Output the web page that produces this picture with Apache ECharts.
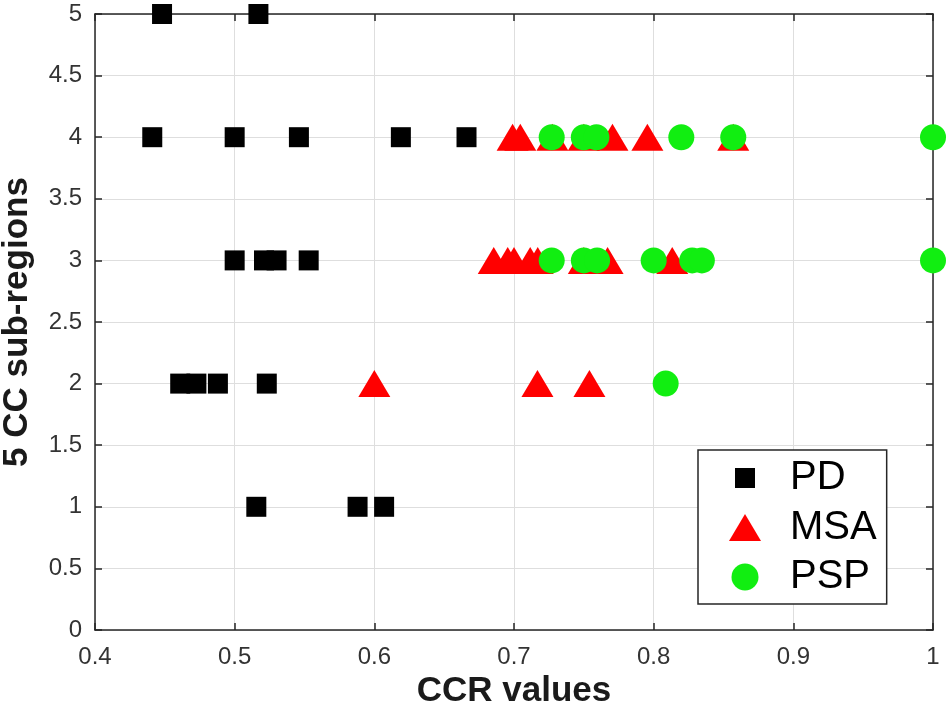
<!DOCTYPE html>
<html>
<head>
<meta charset="utf-8">
<script src="https://cdn.jsdelivr.net/npm/echarts@6/dist/echarts.min.js"></script>
<style>
  html, body { margin: 0; padding: 0; background: #fff; }
  #chart { width: 950px; height: 713px; }
</style>
</head>
<body>
<div id="chart"></div>
<script>
// CCR values per sub-region
const pdX  = [0.448, 0.517, 0.441, 0.5, 0.546, 0.619, 0.666, 0.5, 0.521, 0.53, 0.553, 0.461, 0.4726, 0.488, 0.523, 0.5155, 0.588, 0.607];
const pdY  = [5, 5, 4, 4, 4, 4, 4, 3, 3, 3, 3, 2, 2, 2, 2, 1, 1, 1];
const msaX = [0.699, 0.7045, 0.7275, 0.75, 0.7705, 0.7955, 0.857, 0.6855, 0.6955, 0.700, 0.7116, 0.717, 0.75, 0.767, 0.8133, 0.6, 0.7168, 0.754];
const msaY = [4, 4, 4, 4, 4, 4, 4, 3, 3, 3, 3, 3, 3, 3, 3, 2, 2, 2];
const pspX = [0.727, 0.75, 0.759, 0.8198, 0.857, 1.0, 0.727, 0.75, 0.7595, 0.80, 0.8276, 0.8345, 1.0, 0.8086];
const pspY = [4, 4, 4, 4, 4, 4, 3, 3, 3, 3, 3, 3, 3, 2];

const pairs = (xs, ys) => xs.map((x, i) => [x, ys[i]]);

const chart = echarts.init(document.getElementById('chart'));
const font = 'Liberation Sans, Arial, sans-serif';
const labelStyle = { color: '#333', fontSize: 24, fontFamily: font };
const titleStyle = { fontSize: 35, fontWeight: 'bold', color: '#1a1a1a', fontFamily: font };
const lineStyle = { color: '#262626', width: 1.5 };
const gridLine = { show: true, lineStyle: { color: '#dedede', width: 1 } };

chart.setOption({
  animation: false,
  grid: { left: 95, right: 17, top: 14, bottom: 83, outerBoundsMode: 'none', containLabel: false },
  xAxis: [
    {
      type: 'value', min: 0.4, max: 1, interval: 0.1,
      name: 'CCR values', nameLocation: 'middle', nameGap: 44,
      nameTextStyle: titleStyle,
      axisLine: { lineStyle: lineStyle },
      axisTick: { inside: true, length: 7, lineStyle: lineStyle },
      axisLabel: Object.assign({ margin: 15 }, labelStyle),
      splitLine: gridLine
    },
    {
      type: 'value', position: 'top', min: 0.4, max: 1, interval: 0.1,
      axisLine: { show: true, onZero: false, lineStyle: lineStyle },
      axisTick: { show: true, inside: true, length: 7, lineStyle: lineStyle },
      axisLabel: { show: false },
      splitLine: { show: false }
    }
  ],
  yAxis: [
    {
      type: 'value', min: 0, max: 5, interval: 0.5,
      name: '5 CC sub-regions', nameLocation: 'middle', nameGap: 60,
      nameTextStyle: titleStyle,
      axisLine: { show: true, lineStyle: lineStyle },
      axisTick: { show: true, inside: true, length: 7, lineStyle: lineStyle },
      axisLabel: Object.assign({ margin: 13 }, labelStyle),
      splitLine: gridLine
    },
    {
      type: 'value', position: 'right', min: 0, max: 5, interval: 0.5,
      axisLine: { show: true, onZero: false, lineStyle: lineStyle },
      axisTick: { show: true, inside: true, length: 7, lineStyle: lineStyle },
      axisLabel: { show: false },
      splitLine: { show: false }
    }
  ],
  legend: {
    orient: 'vertical',
    left: 698, top: 450,
    padding: [8, 10, 7, 31],
    itemGap: 9.5,
    itemWidth: 32, itemHeight: 27,
    backgroundColor: '#fff',
    borderColor: '#262626', borderWidth: 1.5,
    textStyle: { fontSize: 40, color: '#000', fontFamily: font, padding: [0, 0, 0, 24] },
    data: [
      // square icon padded to the 32x27 item box
      { name: 'PD', icon: 'path://M0,0M32,27M6,3.5h20v20h-20z' },
      { name: 'MSA', icon: 'triangle' },
      { name: 'PSP', icon: 'circle' }
    ]
  },
  series: [
    {
      name: 'PD', type: 'scatter', clip: false,
      symbol: 'rect', symbolSize: 20,
      itemStyle: { color: '#000', opacity: 1 },
      data: pairs(pdX, pdY)
    },
    {
      name: 'MSA', type: 'scatter', clip: false,
      symbol: 'triangle', symbolSize: [32, 27],
      itemStyle: { color: '#ff0000', opacity: 1 },
      data: pairs(msaX, msaY)
    },
    {
      name: 'PSP', type: 'scatter', clip: false,
      symbol: 'circle', symbolSize: 26,
      itemStyle: { color: '#11ee11', opacity: 1 },
      data: pairs(pspX, pspY)
    }
  ]
});
</script>
</body>
</html>
